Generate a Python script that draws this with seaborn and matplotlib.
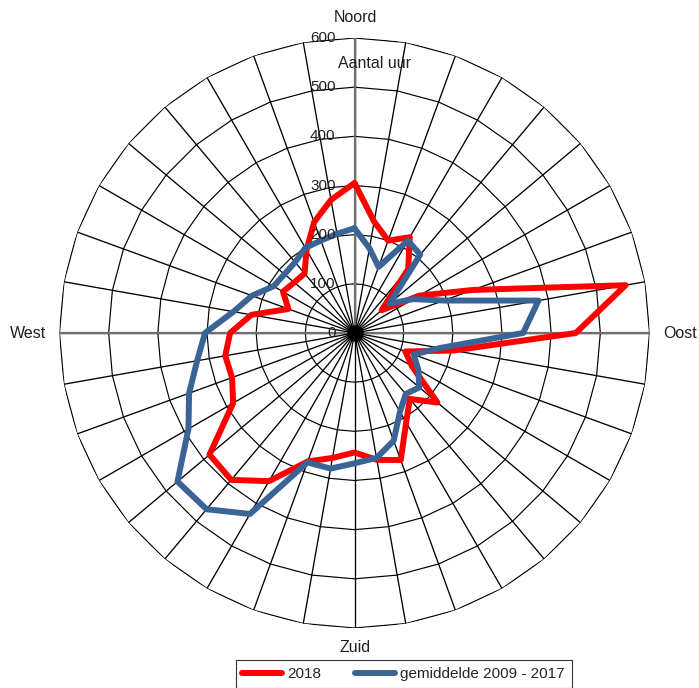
import numpy as np
import pandas as pd
import matplotlib
matplotlib.use("Agg")
import matplotlib.pyplot as plt
from matplotlib.lines import Line2D
import seaborn as sns

# Wind direction in degrees, clockwise from north
directions = list(range(0, 360, 10))
uren_2018 = [305, 230, 200, 225, 170, 72, 152, 256, 560, 450,
             205, 110, 135, 220, 175, 210, 275, 262, 243, 258,
             278, 348, 390, 385, 285, 265, 267, 253, 213, 143,
             168, 160, 158, 195, 240, 275]
uren_gemiddeld = [213, 175, 143, 217, 208, 93, 138, 193, 380, 343,
                  176, 128, 150, 172, 162, 185, 233, 258, 265, 280,
                  280, 425, 468, 470, 390, 358, 325, 304, 250, 222,
                  190, 186, 188, 200, 200, 205]
series_names = ["2018", "gemiddelde 2009 - 2017"]
series_colors = ["#FF0000", "#3B6496"]
ring_values = [0, 100, 200, 300, 400, 500, 600]
axis_title = "Aantal uur"
compass = ["Noord", "Oost", "Zuid", "West"]

sns.set_style("white")
plt.rcParams["font.family"] = ["Liberation Sans", "DejaVu Sans"]

W, H = 699, 688
fig = plt.figure(figsize=(W / 100, H / 100), dpi=100)
fig.patch.set_facecolor("white")

cx, cy, R = 354.5, 333, 295
ax = fig.add_axes([(cx - R) / W, (H - cy - R) / H, 2 * R / W, 2 * R / H],
                  projection="polar")
ax.set_theta_zero_location("N")
ax.set_theta_direction(-1)
ax.grid(False)
ax.spines["polar"].set_visible(False)
ax.set_facecolor("white")

theta = np.radians(directions + [360])
rmax = ring_values[-1]

# Polygonal rings and spokes, as in a radar chart
for r in ring_values[1:]:
    ax.plot(theta, [r] * len(theta), color="black", lw=0.85, zorder=1)
for t in np.radians(directions):
    ax.plot([t, t], [0, rmax], color="black", lw=0.95, zorder=1)
for t in np.radians([0, 90, 270]):
    ax.plot([t, t], [0, rmax], color="#707070", lw=1.6, zorder=1.5)
ax.scatter([0], [0], s=120, color="black", zorder=1.6)

# Data in long form, each series closed back to north
rows = []
for name, vals in zip(series_names, [uren_2018, uren_gemiddeld]):
    for th, v in zip(theta, vals + [vals[0]]):
        rows.append({"theta": th, "uur": v, "reeks": name})
df = pd.DataFrame(rows)

sns.lineplot(data=df, x="theta", y="uur", hue="reeks", hue_order=series_names,
             palette=dict(zip(series_names, series_colors)), sort=False,
             estimator=None, linewidth=4.3, legend=False, ax=ax, zorder=3)

ax.set_ylim(0, rmax)
ax.set_xticks([])
ax.set_yticks([])
ax.set_xlabel("")
ax.set_ylabel("")

for r in ring_values:
    ax.annotate(str(r), xy=(0, r), xytext=(-19, 0), textcoords="offset pixels",
                ha="right", va="center", fontsize=11, color="#202020",
                zorder=4, annotation_clip=False)

fig.text(374 / W, 1 - 64 / H, axis_title, ha="center", va="center",
         fontsize=11.5, color="#202020")

compass_pos = [(355, 17), (680, 333), (355, 648), (28, 333)]
for label, (px, py) in zip(compass, compass_pos):
    fig.text(px / W, 1 - py / H, label, ha="center", va="center",
             fontsize=11.5, color="#202020")

handles = [Line2D([], [], color=c, lw=4.3, solid_capstyle="round")
           for c in series_colors]
leg = fig.legend(handles, series_names, loc="lower center",
                 bbox_to_anchor=(403.5 / W, 0.0), ncol=2, frameon=True,
                 fancybox=False, edgecolor="black", fontsize=11,
                 handlelength=2.6, handletextpad=0.35, columnspacing=2.2,
                 borderpad=0.45, borderaxespad=0)
leg.get_frame().set_linewidth(0.8)

fig.savefig("out.png", dpi=100, facecolor="white")
